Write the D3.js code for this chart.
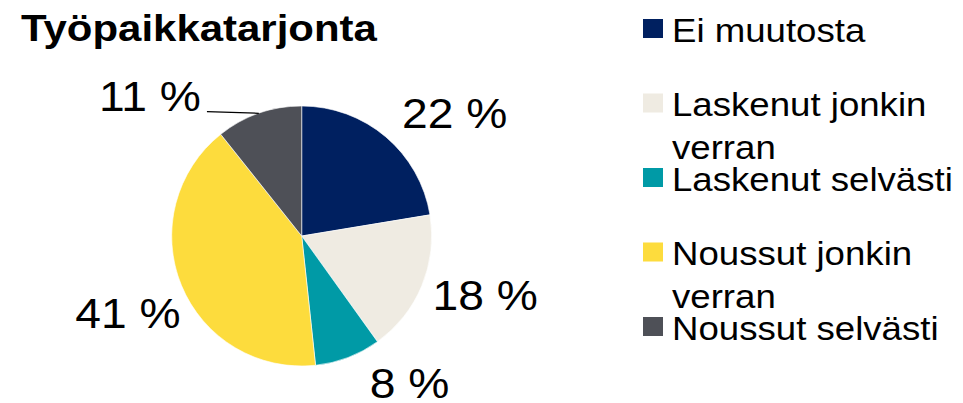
<!DOCTYPE html>
<html>
<head>
<meta charset="utf-8">
<script src="https://cdn.jsdelivr.net/npm/d3@7"></script>
<style>
  html, body { margin: 0; padding: 0; background: #fff; }
  svg { display: block; }
  text { font-family: "Liberation Sans", Arial, sans-serif; fill: #000; }
</style>
</head>
<body>
<svg id="chart" width="963" height="403"></svg>
<script>
// ---- data ----
const title = "Työpaikkatarjonta";
const categories = ["Ei muutosta", "Laskenut jonkin verran", "Laskenut selvästi", "Noussut jonkin verran", "Noussut selvästi"];
const legendLines = [["Ei muutosta"], ["Laskenut jonkin", "verran"], ["Laskenut selvästi"], ["Noussut jonkin", "verran"], ["Noussut selvästi"]];
const values = [22.4, 17.7, 8.2, 41.0, 10.7];
const valueLabels = ["22 %", "18 %", "8 %", "41 %", "11 %"];
const colors = ["#002060", "#EFEBE2", "#009AA6", "#FDDC3D", "#4E5057"];

// ---- layout ----
const svg = d3.select("#chart");
const cx = 301.7, cy = 236, R = 130;
const sx = 1.1; // horizontal stretch of text in the reference
// label nudges relative to a point on the slice mid-angle at radius 190
const labelNudge = [[30, 22], [8, -14], [40, -31], [2, 5], [-89, 39]];
const leaderFor = [false, false, false, false, true];

svg.append("text")
  .attr("transform", `translate(21,40.5) scale(1.125,1)`)
  .style("font-size", "37.3px").style("font-weight", "bold")
  .text(title);

const pie = d3.pie().sort(null).value(d => d)(values);
const arc = d3.arc().innerRadius(0).outerRadius(R);
const labelArc = d3.arc().innerRadius(190).outerRadius(190);
const edgeArc = d3.arc().innerRadius(R).outerRadius(R);

const g = svg.append("g").attr("transform", `translate(${cx},${cy})`);
g.selectAll("path.slice").data(pie).join("path")
  .attr("class", "slice")
  .attr("d", arc)
  .attr("fill", (d, i) => colors[i])
  .attr("stroke", "#fff").attr("stroke-width", 0.6);

const fs = 42;
pie.forEach((d, i) => {
  const [bx, by] = labelArc.centroid(d);
  const x = bx + labelNudge[i][0], y = by + labelNudge[i][1];
  const t = g.append("text")
    .attr("transform", `translate(${x},${y + fs * 0.716 / 2}) scale(${sx},1)`)
    .attr("text-anchor", "middle")
    .style("font-size", fs + "px")
    .text(valueLabels[i]);
  if (leaderFor[i]) {
    const w = t.node().getBBox().width * sx;
    const [ex, ey] = edgeArc.centroid(d);
    g.append("line")
      .attr("x1", x + w / 2 + 6).attr("y1", y + fs * 0.716 / 2 + 1)
      .attr("x2", ex).attr("y2", ey)
      .attr("stroke", "#000").attr("stroke-width", 1.3);
  }
});

// ---- legend ----
const lgX = 643, lgY0 = 28.5, lgStep = 74.5, lfs = 32.7;
const lg = svg.append("g");
categories.forEach((c, i) => {
  const yc = lgY0 + i * lgStep;
  lg.append("rect").attr("x", lgX).attr("y", yc - 9.5).attr("width", 20).attr("height", 19)
    .attr("fill", colors[i]);
  legendLines[i].forEach((line, j) => {
    lg.append("text")
      .attr("transform", `translate(${lgX + 29},${yc + 13 + j * 42.6}) scale(${sx + 0.02},1)`)
      .style("font-size", lfs + "px")
      .text(line);
  });
});
</script>
</body>
</html>
